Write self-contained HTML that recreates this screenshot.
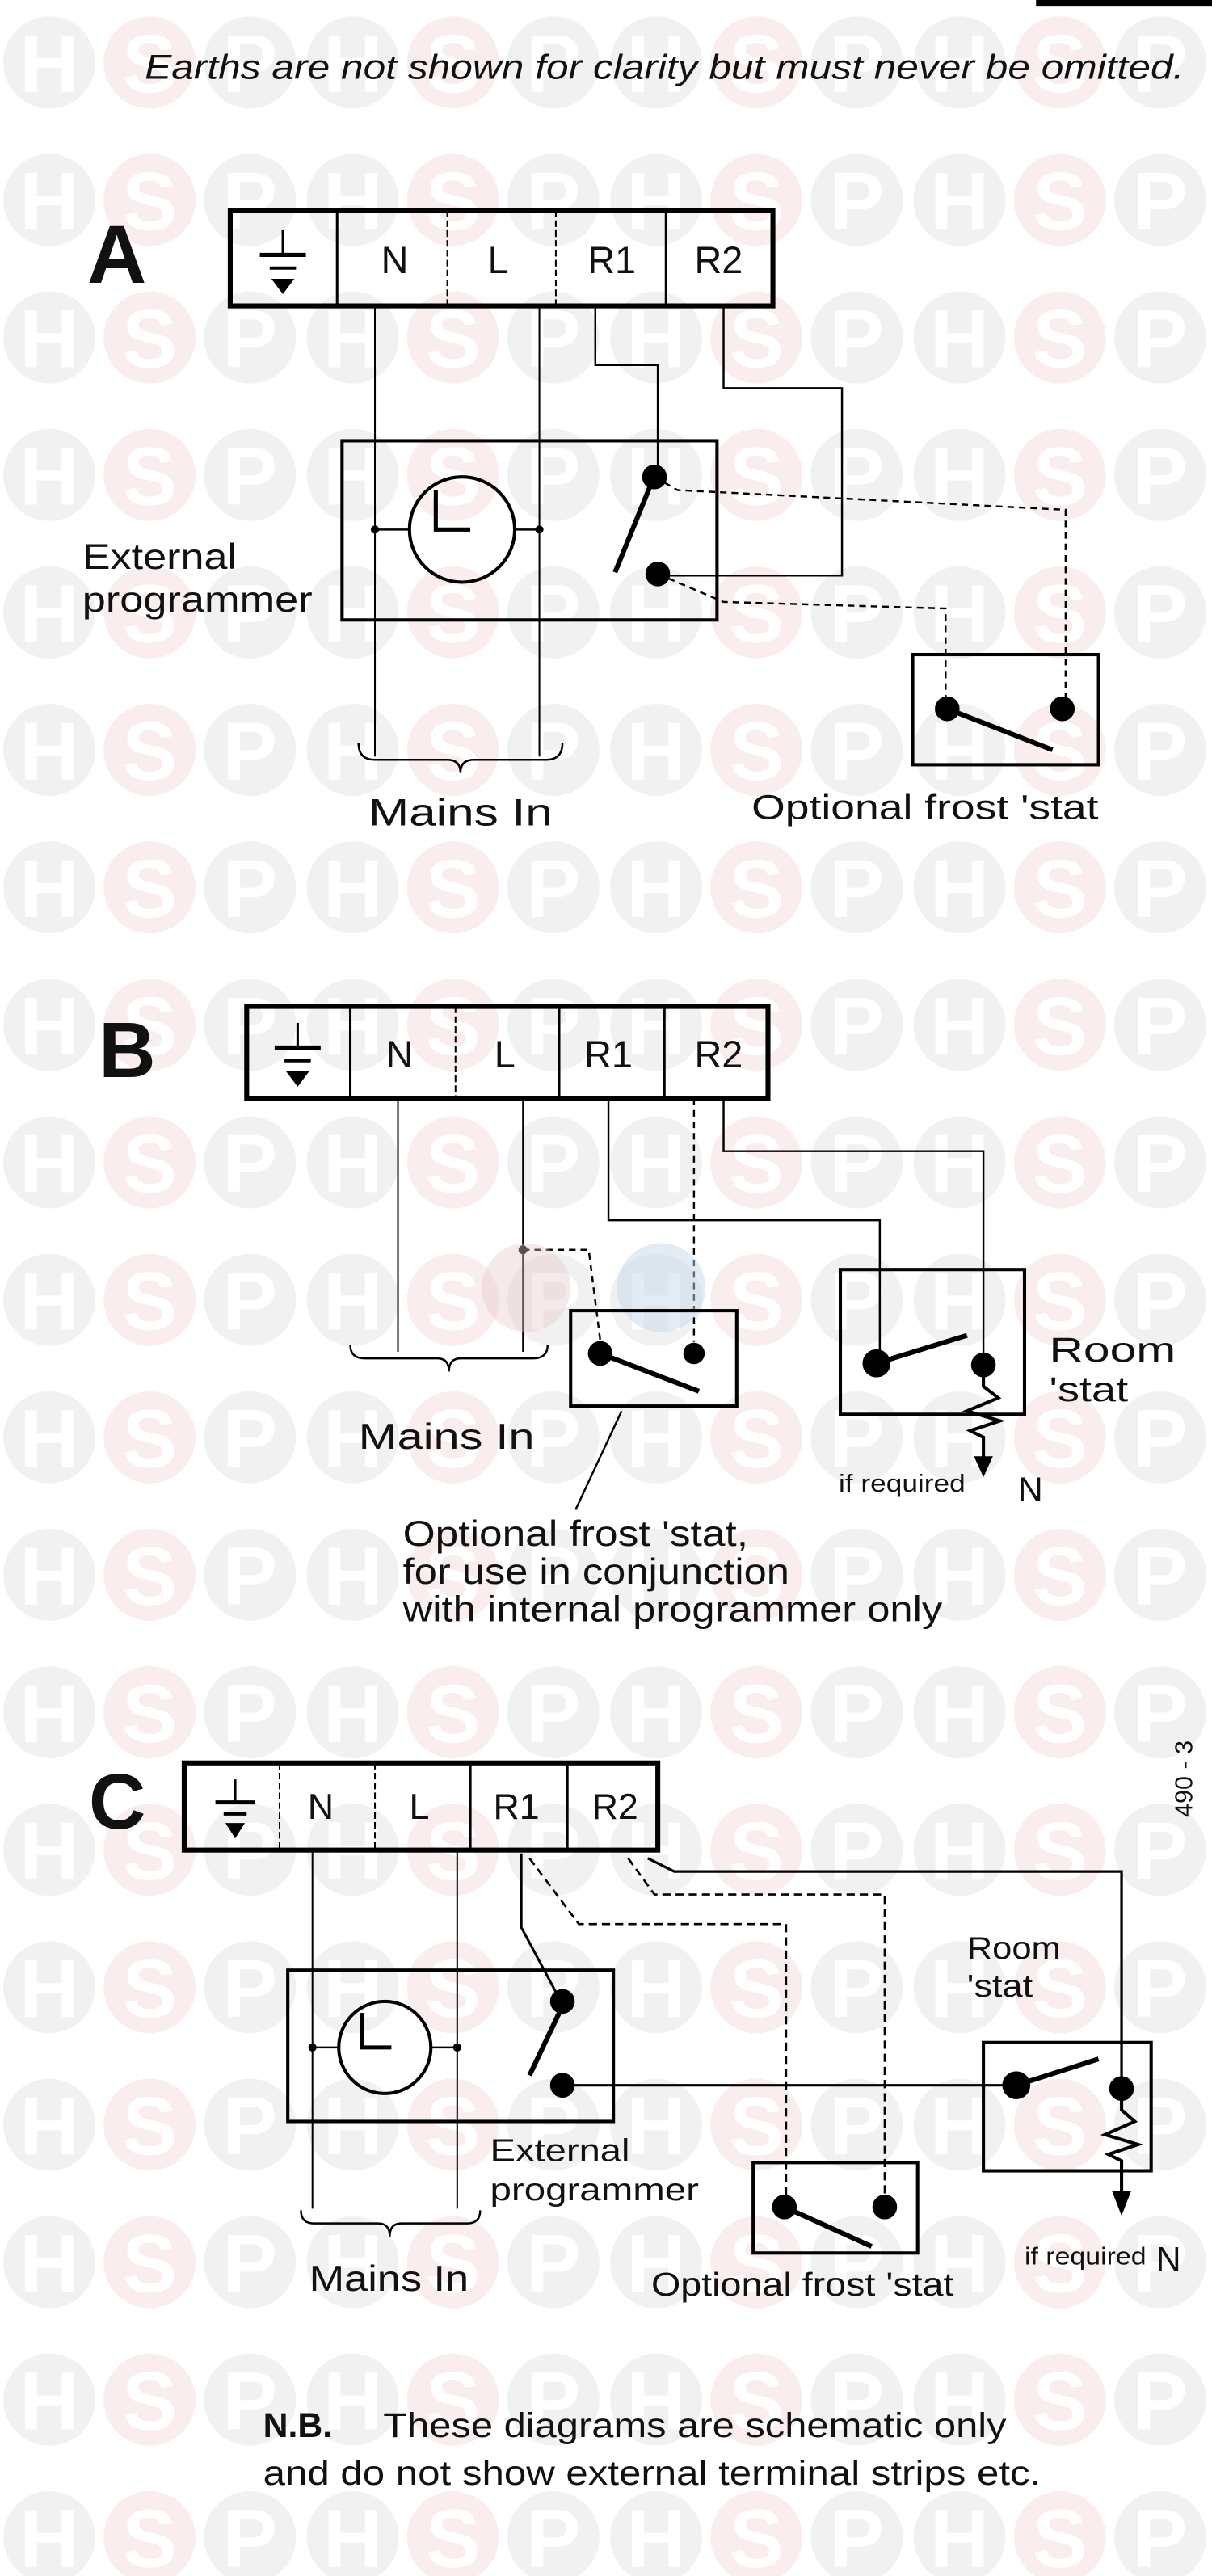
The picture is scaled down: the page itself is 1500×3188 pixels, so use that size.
<!DOCTYPE html>
<html><head><meta charset="utf-8"><style>
html,body{margin:0;padding:0;background:#fff;}
svg{display:block;}
text{font-family:"Liberation Sans",Arial,sans-serif;fill:#111;}
</style></head><body>
<svg width="1500" height="3188" viewBox="0 0 737 1566.4" preserveAspectRatio="none" xmlns="http://www.w3.org/2000/svg">
<defs>
<pattern id="wm" x="0" y="-4" width="184.5" height="83.6" patternUnits="userSpaceOnUse">
<circle cx="30" cy="42" r="28" fill="#f1f1f1"/>
<circle cx="91" cy="42" r="28" fill="#f9eded"/>
<circle cx="152" cy="42" r="28" fill="#f1f1f1"/>
<circle cx="214.5" cy="42" r="28" fill="#f1f1f1"/>
<text x="30" y="60" font-size="50" font-weight="bold" text-anchor="middle" style="fill:#fff">H</text>
<text x="91" y="60" font-size="50" font-weight="bold" text-anchor="middle" style="fill:#fff">S</text>
<text x="152" y="60" font-size="50" font-weight="bold" text-anchor="middle" style="fill:#fff">P</text>
</pattern>
</defs>
<rect width="737" height="1566.4" fill="#fff"/>
<rect width="737" height="1566.4" fill="url(#wm)"/>
<rect x="630" y="0" width="107" height="4" fill="#000"/>

<text x="88" y="48" font-size="21" font-style="italic" textLength="632" lengthAdjust="spacingAndGlyphs">Earths are not shown for clarity but must never be omitted.</text>

<g stroke="#000" fill="none">
<!-- ===== A ===== -->
<rect x="140" y="128" width="330" height="58" stroke-width="3"/>
<line x1="205" y1="128" x2="205" y2="186" stroke-width="1.5"/>
<line x1="272" y1="128" x2="272" y2="186" stroke-width="1" stroke-dasharray="4,2"/>
<line x1="338" y1="128" x2="338" y2="186" stroke-width="1" stroke-dasharray="4,2"/>
<line x1="405" y1="128" x2="405" y2="186" stroke-width="1.5"/>
<line x1="172" y1="140" x2="172" y2="154" stroke-width="1.5"/>
<line x1="158" y1="155" x2="186" y2="155" stroke-width="2.5"/>
<line x1="164" y1="163" x2="180" y2="163" stroke-width="2"/>
<path d="M166 170 L178 170 L172 178 Z" fill="#000"/>
<line x1="228" y1="186" x2="228" y2="460" stroke-width="1"/>
<line x1="328" y1="186" x2="328" y2="460" stroke-width="1"/>
<rect x="208" y="268" width="228" height="109" stroke-width="2"/>
<circle cx="281" cy="322" r="32" stroke-width="2"/>
<line x1="228" y1="322" x2="249" y2="322" stroke-width="1.2"/>
<line x1="313" y1="322" x2="328" y2="322" stroke-width="1.2"/>
<path d="M265 298 L265 322 L286 322" stroke-width="2.5"/>
<circle cx="228" cy="322" r="2" fill="#000"/>
<circle cx="328" cy="322" r="2" fill="#000"/>
<polyline points="362,186 362,222 400,222 400,288" stroke-width="1.2"/>
<polyline points="440,186 440,236 512,236 512,350 400,350" stroke-width="1.2"/>
<line x1="374" y1="348" x2="396" y2="294" stroke-width="3"/>
<circle cx="398" cy="290" r="7" fill="#000"/>
<circle cx="400" cy="349" r="7" fill="#000"/>
<polyline points="398,290 412,298 648,310 648,428" stroke-width="1.2" stroke-dasharray="4,3"/>
<polyline points="400,349 440,366 575,370 575,428" stroke-width="1.2" stroke-dasharray="4,3"/>
<rect x="555" y="398" width="113" height="67" stroke-width="2"/>
<circle cx="576" cy="431" r="7" fill="#000"/>
<circle cx="646" cy="431" r="7" fill="#000"/>
<line x1="576" y1="431" x2="640" y2="456" stroke-width="3"/>
<path d="M218 452 Q218 462 228 462 L272 462 Q280 462 280 470 Q280 462 288 462 L332 462 Q342 462 342 452" stroke-width="1.2"/>

<!-- ===== B ===== -->
<rect x="150" y="612" width="317" height="56" stroke-width="3"/>
<line x1="213" y1="612" x2="213" y2="668" stroke-width="1.5"/>
<line x1="277" y1="612" x2="277" y2="668" stroke-width="1" stroke-dasharray="4,2"/>
<line x1="340" y1="612" x2="340" y2="668" stroke-width="1.5"/>
<line x1="404" y1="612" x2="404" y2="668" stroke-width="1.5"/>
<line x1="181" y1="622" x2="181" y2="636" stroke-width="1.5"/>
<line x1="167" y1="637" x2="195" y2="637" stroke-width="2.5"/>
<line x1="173" y1="645" x2="189" y2="645" stroke-width="2"/>
<path d="M175 652 L187 652 L181 660 Z" fill="#000"/>
<line x1="242" y1="668" x2="242" y2="822" stroke-width="1"/>
<line x1="318" y1="668" x2="318" y2="822" stroke-width="1"/>
<path d="M213 818 Q213 826 222 826 L266 826 Q273 826 273 834 Q273 826 280 826 L324 826 Q333 826 333 818" stroke-width="1.2"/>
<circle cx="318" cy="760" r="2.2" fill="#000"/>
<polyline points="318,760 358,760 365,815" stroke-width="1.2" stroke-dasharray="4,3"/>
<polyline points="370,668 370,742 535,742 535,827" stroke-width="1.2"/>
<line x1="422" y1="668" x2="422" y2="816" stroke-width="1.2" stroke-dasharray="4,3"/>
<polyline points="440,668 440,700 598,700 598,830" stroke-width="1.2"/>
<circle cx="320" cy="783" r="27" fill="#e8c8c8" fill-opacity="0.4" stroke="none"/>
<circle cx="402" cy="783" r="27" fill="#c8d8ea" fill-opacity="0.5" stroke="none"/>
<rect x="347" y="797" width="101" height="58" stroke-width="2"/>
<circle cx="365" cy="823" r="7" fill="#000"/>
<circle cx="422" cy="823" r="6" fill="#000"/>
<line x1="365" y1="823" x2="425" y2="846" stroke-width="3"/>
<line x1="378" y1="858" x2="350" y2="918" stroke-width="1.2"/>
<rect x="511" y="772" width="112" height="88" stroke-width="2"/>
<circle cx="533" cy="829" r="8" fill="#000"/>
<circle cx="598" cy="830" r="7" fill="#000"/>
<line x1="533" y1="829" x2="588" y2="812" stroke-width="3"/>
<polyline points="598,837 598,843 607,850 588,858 608,864 590,870 598,874 598,888" stroke-width="2"/>
<path d="M593 886 L603 886 L598 897 Z" fill="#000"/>

<!-- ===== C ===== -->
<rect x="112" y="1072" width="288" height="53" stroke-width="3"/>
<line x1="170" y1="1072" x2="170" y2="1125" stroke-width="1" stroke-dasharray="4,2"/>
<line x1="228" y1="1072" x2="228" y2="1125" stroke-width="1" stroke-dasharray="4,2"/>
<line x1="286" y1="1072" x2="286" y2="1125" stroke-width="1.5"/>
<line x1="345" y1="1072" x2="345" y2="1125" stroke-width="1.5"/>
<line x1="143" y1="1082" x2="143" y2="1095" stroke-width="1.5"/>
<line x1="131" y1="1096" x2="155" y2="1096" stroke-width="2.5"/>
<line x1="136" y1="1103" x2="150" y2="1103" stroke-width="2"/>
<path d="M138 1109 L148 1109 L143 1117 Z" fill="#000"/>
<line x1="190" y1="1125" x2="190" y2="1343" stroke-width="1"/>
<line x1="278" y1="1125" x2="278" y2="1343" stroke-width="1"/>
<path d="M183 1344 Q183 1352 191 1352 L230 1352 Q237 1352 237 1360 Q237 1352 244 1352 L284 1352 Q292 1352 292 1344" stroke-width="1.2"/>
<rect x="175" y="1198" width="198" height="92" stroke-width="2"/>
<circle cx="234" cy="1245" r="28" stroke-width="2"/>
<line x1="190" y1="1245" x2="206" y2="1245" stroke-width="1.2"/>
<line x1="262" y1="1245" x2="278" y2="1245" stroke-width="1.2"/>
<path d="M220 1224 L220 1245 L238 1245" stroke-width="2.5"/>
<circle cx="190" cy="1245" r="2" fill="#000"/>
<circle cx="278" cy="1245" r="2" fill="#000"/>
<polyline points="317,1127 317,1172 340,1215" stroke-width="1.5"/>
<circle cx="342" cy="1217" r="7" fill="#000"/>
<circle cx="342" cy="1268" r="7" fill="#000"/>
<line x1="322" y1="1262" x2="340" y2="1224" stroke-width="3"/>
<line x1="342" y1="1268" x2="618" y2="1268" stroke-width="1.5"/>
<polyline points="322,1130 352,1170 478,1170 478,1342" stroke-width="1.3" stroke-dasharray="5,3"/>
<polyline points="382,1130 398,1152 538,1152 538,1342" stroke-width="1.3" stroke-dasharray="5,3"/>
<polyline points="394,1130 410,1138 682,1138 682,1270" stroke-width="1.6"/>
<rect x="458" y="1315" width="100" height="55" stroke-width="2"/>
<circle cx="477" cy="1342" r="7" fill="#000"/>
<circle cx="538" cy="1342" r="7" fill="#000"/>
<line x1="477" y1="1342" x2="530" y2="1366" stroke-width="3"/>
<rect x="598" y="1242" width="102" height="78" stroke-width="2"/>
<circle cx="618" cy="1268" r="8" fill="#000"/>
<circle cx="682" cy="1270" r="7" fill="#000"/>
<line x1="618" y1="1268" x2="668" y2="1252" stroke-width="3"/>
<polyline points="682,1277 682,1283 690,1290 672,1298 692,1304 674,1310 682,1314 682,1335" stroke-width="2"/>
<path d="M677 1333 L687 1333 L682 1346 Z" fill="#000"/>
</g>

<text x="53" y="172" font-size="50" font-weight="bold">A</text>
<g font-size="23">
<text x="240" y="166" text-anchor="middle">N</text>
<text x="303" y="166" text-anchor="middle">L</text>
<text x="372" y="166" text-anchor="middle">R1</text>
<text x="437" y="166" text-anchor="middle">R2</text>
</g>
<text x="50" y="346" font-size="22" textLength="94" lengthAdjust="spacingAndGlyphs">External</text>
<text x="50" y="372" font-size="22" textLength="140" lengthAdjust="spacingAndGlyphs">programmer</text>
<text x="224" y="502" font-size="23" textLength="112" lengthAdjust="spacingAndGlyphs">Mains In</text>
<text x="457" y="498" font-size="21" textLength="211" lengthAdjust="spacingAndGlyphs">Optional frost 'stat</text>

<text x="60" y="655" font-size="48" font-weight="bold">B</text>
<g font-size="23">
<text x="243" y="649" text-anchor="middle">N</text>
<text x="307" y="649" text-anchor="middle">L</text>
<text x="370" y="649" text-anchor="middle">R1</text>
<text x="437" y="649" text-anchor="middle">R2</text>
</g>
<text x="218" y="881" font-size="22" textLength="107" lengthAdjust="spacingAndGlyphs">Mains In</text>
<text x="638" y="828" font-size="21" textLength="77" lengthAdjust="spacingAndGlyphs">Room</text>
<text x="638" y="852" font-size="21" textLength="48" lengthAdjust="spacingAndGlyphs">'stat</text>
<text x="510" y="907" font-size="15" textLength="77" lengthAdjust="spacingAndGlyphs">if required</text>
<text x="619" y="913" font-size="21">N</text>
<g font-size="22">
<text x="245" y="940" textLength="210" lengthAdjust="spacingAndGlyphs">Optional frost 'stat,</text>
<text x="245" y="963" textLength="235" lengthAdjust="spacingAndGlyphs">for use in conjunction</text>
<text x="245" y="986" textLength="328" lengthAdjust="spacingAndGlyphs">with internal programmer only</text>
</g>

<text x="54" y="1112" font-size="48" font-weight="bold">C</text>
<g font-size="22">
<text x="195" y="1106" text-anchor="middle">N</text>
<text x="255" y="1106" text-anchor="middle">L</text>
<text x="314" y="1106" text-anchor="middle">R1</text>
<text x="374" y="1106" text-anchor="middle">R2</text>
</g>
<text x="725" y="1105" font-size="15" transform="rotate(-90 725 1105)">490 - 3</text>
<text x="588" y="1191" font-size="19" textLength="57" lengthAdjust="spacingAndGlyphs">Room</text>
<text x="588" y="1214" font-size="19" textLength="40" lengthAdjust="spacingAndGlyphs">'stat</text>
<text x="298" y="1314" font-size="19" textLength="85" lengthAdjust="spacingAndGlyphs">External</text>
<text x="298" y="1338" font-size="19" textLength="127" lengthAdjust="spacingAndGlyphs">programmer</text>
<text x="188" y="1393" font-size="22" textLength="97" lengthAdjust="spacingAndGlyphs">Mains In</text>
<text x="396" y="1396" font-size="20" textLength="184" lengthAdjust="spacingAndGlyphs">Optional frost 'stat</text>
<text x="623" y="1377" font-size="15" textLength="74" lengthAdjust="spacingAndGlyphs">if required</text>
<text x="703" y="1381" font-size="21">N</text>

<text x="160" y="1482" font-size="21" font-weight="bold">N.B.</text>
<text x="233" y="1482" font-size="21" textLength="379" lengthAdjust="spacingAndGlyphs">These diagrams are schematic only</text>
<text x="160" y="1511" font-size="21" textLength="473" lengthAdjust="spacingAndGlyphs">and do not show external terminal strips etc.</text>
</svg>
</body></html>
